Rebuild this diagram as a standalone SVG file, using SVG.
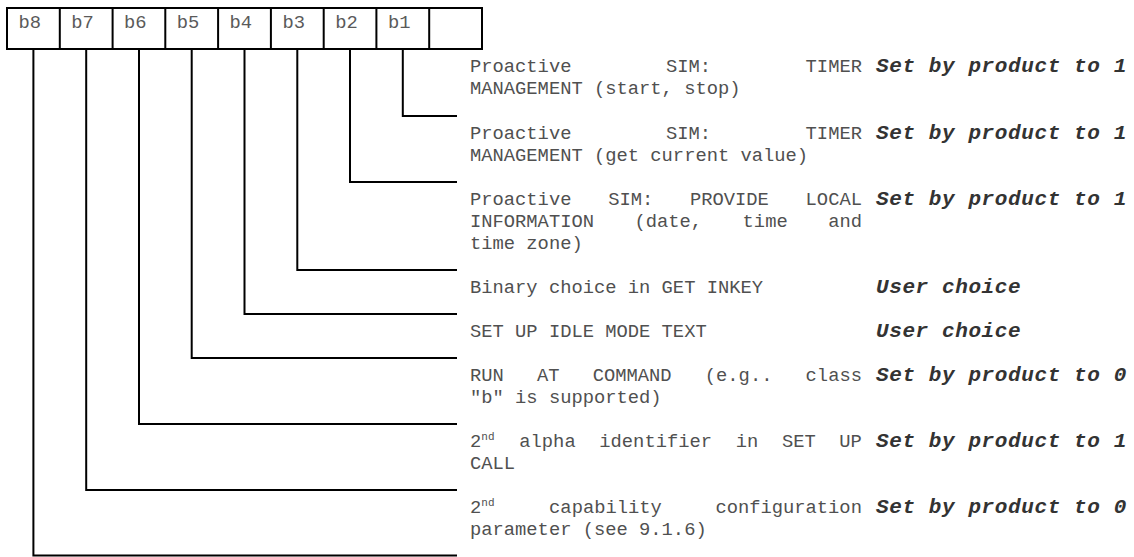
<svg xmlns="http://www.w3.org/2000/svg" width="1134" height="557" viewBox="0 0 1134 557">
<style>
.t{font-family:"Liberation Mono","Courier New",monospace;font-size:18.8px;fill:#505050}
.c{fill:#5a5a5a}
.b{font-family:"Liberation Mono","Courier New",monospace;font-size:21px;font-weight:bold;font-style:italic;letter-spacing:0.6px;fill:#333}
.s{font-size:11px}
.ln{fill:none;stroke:#000;stroke-width:2}
</style>
<rect width="1134" height="557" fill="#fff"/>
<g id="octet">
<rect class="ln" x="7" y="8" width="475" height="41"/>
<path class="ln" d="M59.8 8V49M112.6 8V49M165.3 8V49M218.1 8V49M270.9 8V49M323.7 8V49M376.4 8V49M429.2 8V49"/>
<text class="t c" y="28"><tspan x="18.5">b8</tspan><tspan x="71.3">b7</tspan><tspan x="124.1">b6</tspan><tspan x="176.8">b5</tspan><tspan x="229.6">b4</tspan><tspan x="282.4">b3</tspan><tspan x="335.2">b2</tspan><tspan x="387.9">b1</tspan></text>
</g>
<g id="connectors">
<path class="ln" d="M402.8 49V116H457"/>
<path class="ln" d="M350 49V182H457"/>
<path class="ln" d="M297.3 49V270H457"/>
<path class="ln" d="M244.5 49V314H457"/>
<path class="ln" d="M191.7 49V358H457"/>
<path class="ln" d="M139 49V424H457"/>
<path class="ln" d="M86.2 49V490H457"/>
<path class="ln" d="M33.4 49V555.5H457"/>
</g>
<g id="b1">
<text class="t" y="72"><tspan x="470">Proactive</tspan><tspan x="666">SIM:</tspan><tspan x="805.6">TIMER</tspan></text>
<text class="t" x="470" y="94">MANAGEMENT (start, stop)</text>
<text class="b" x="876" y="72">Set by product to 1</text>
</g>
<g id="b2">
<text class="t" y="139"><tspan x="470">Proactive</tspan><tspan x="666">SIM:</tspan><tspan x="805.6">TIMER</tspan></text>
<text class="t" x="470" y="161">MANAGEMENT (get current value)</text>
<text class="b" x="876" y="139">Set by product to 1</text>
</g>
<g id="b3">
<text class="t" y="205"><tspan x="470">Proactive</tspan><tspan x="608.2">SIM:</tspan><tspan x="690">PROVIDE</tspan><tspan x="805.6">LOCAL</tspan></text>
<text class="t" y="227"><tspan x="470">INFORMATION</tspan><tspan x="634.5">(date,</tspan><tspan x="742.6">time</tspan><tspan x="828.2">and</tspan></text>
<text class="t" x="470" y="249">time zone)</text>
<text class="b" x="876" y="205">Set by product to 1</text>
</g>
<g id="b4">
<text class="t" x="470" y="293">Binary choice in GET INKEY</text>
<text class="b" x="876" y="293">User choice</text>
</g>
<g id="b5">
<text class="t" x="470" y="337">SET UP IDLE MODE TEXT</text>
<text class="b" x="876" y="337">User choice</text>
</g>
<g id="b6">
<text class="t" y="381"><tspan x="470">RUN</tspan><tspan x="537">AT</tspan><tspan x="592.7">COMMAND</tspan><tspan x="704.8">(e.g..</tspan><tspan x="805.6">class</tspan></text>
<text class="t" x="470" y="403">"b" is supported)</text>
<text class="b" x="876" y="381">Set by product to 0</text>
</g>
<g id="b7">
<text class="t" y="447"><tspan x="470">2</tspan><tspan class="s" dy="-7">nd</tspan><tspan x="519.3" dy="7">alpha</tspan><tspan x="599.3">identifier</tspan><tspan x="735.7">in</tspan><tspan x="781.9">SET</tspan><tspan x="839.3">UP</tspan></text>
<text class="t" x="470" y="469">CALL</text>
<text class="b" x="876" y="447">Set by product to 1</text>
</g>
<g id="b8">
<text class="t" y="513"><tspan x="470">2</tspan><tspan class="s" dy="-7">nd</tspan><tspan x="549.1" dy="7">capability</tspan><tspan x="715.4">configuration</tspan></text>
<text class="t" x="470" y="535">parameter (see 9.1.6)</text>
<text class="b" x="876" y="513">Set by product to 0</text>
</g>
</svg>
